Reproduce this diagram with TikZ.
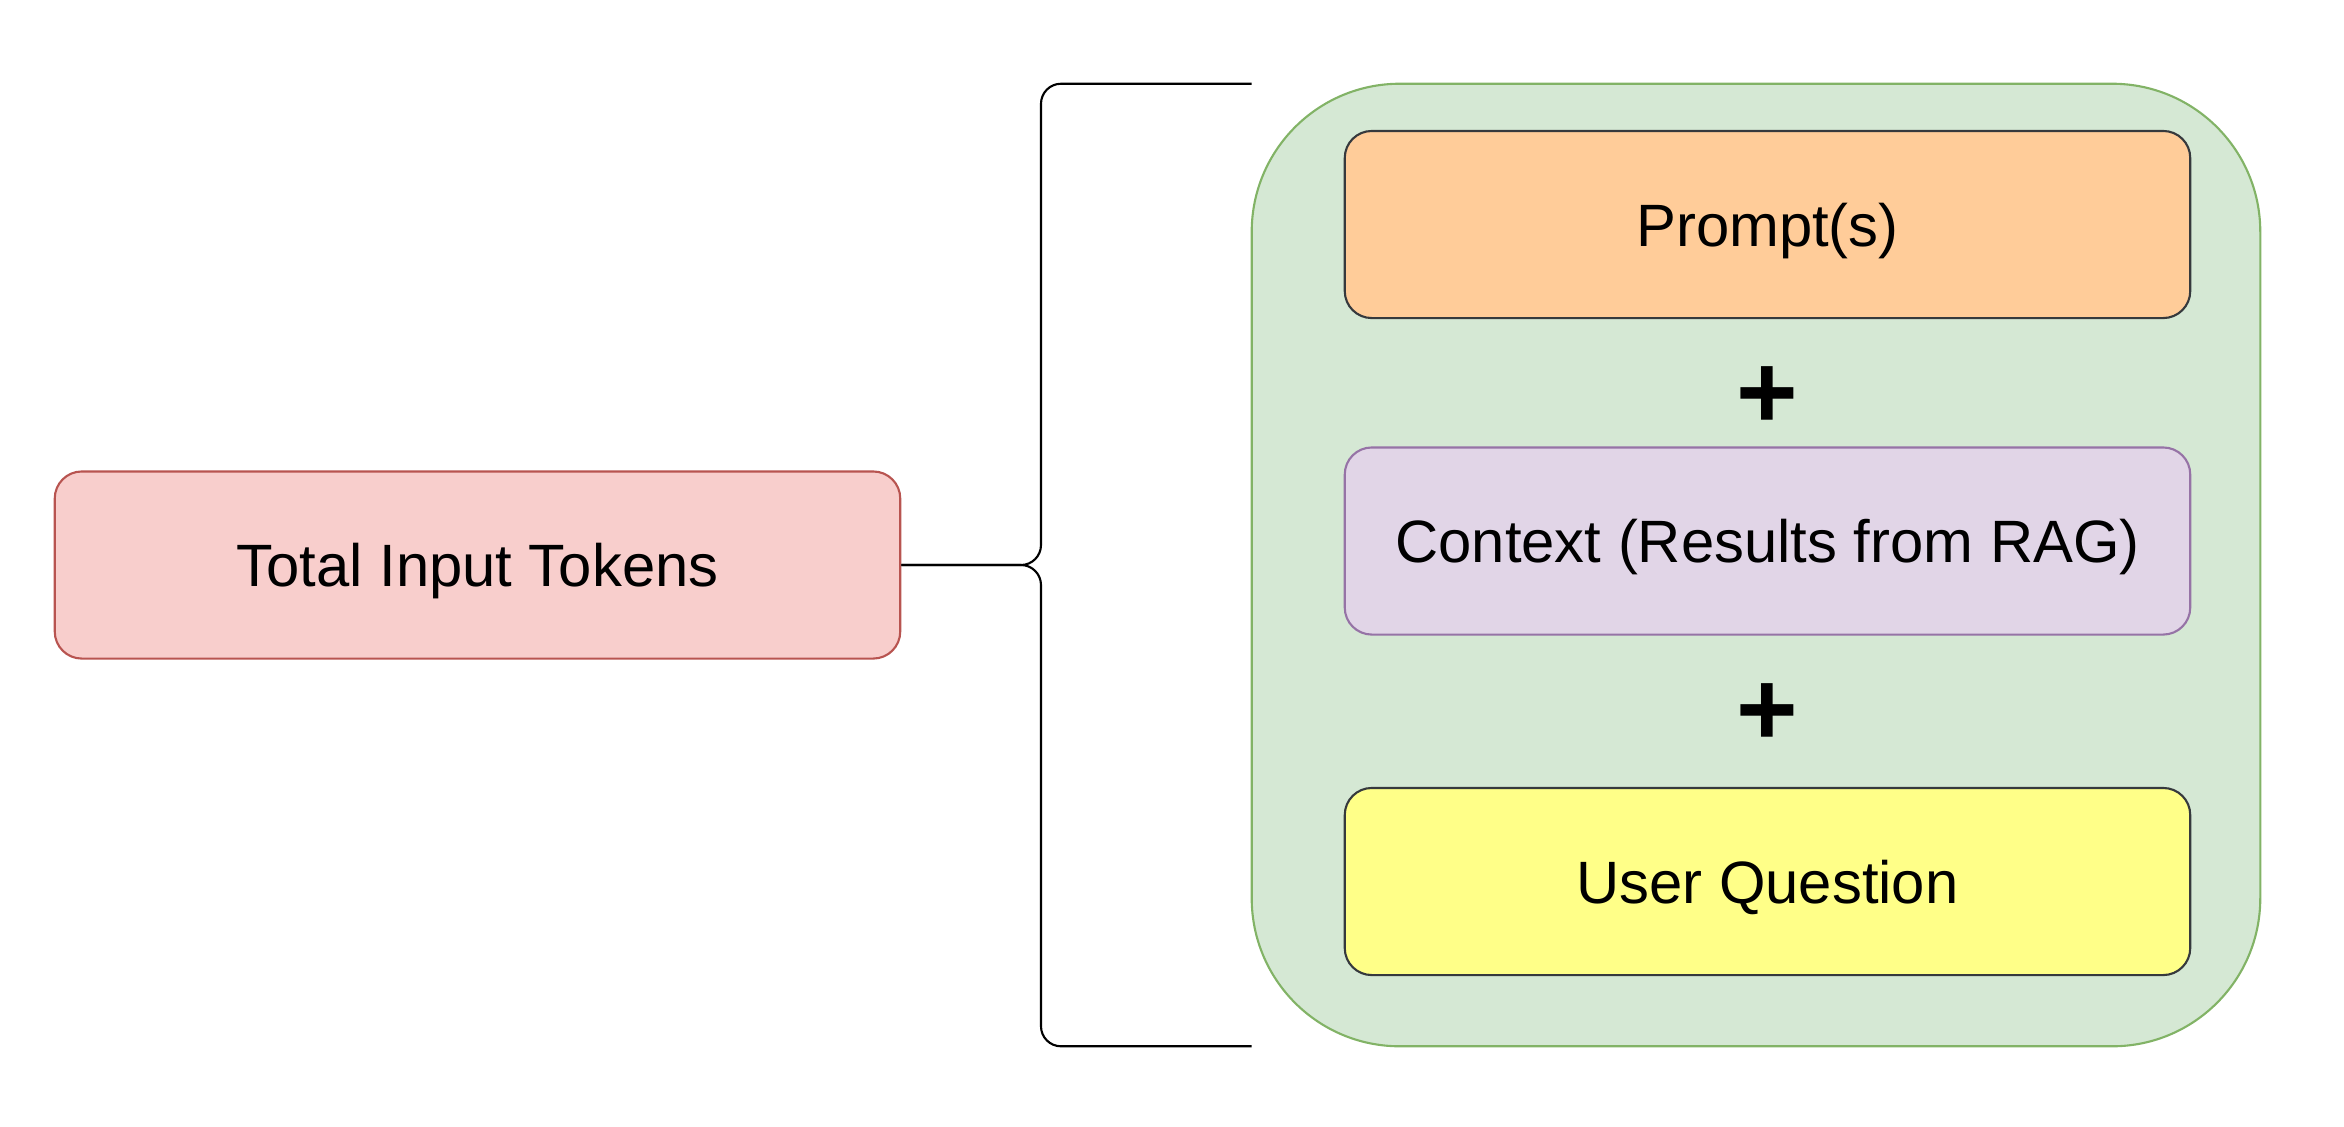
\documentclass[tikz,border=0pt]{standalone}
\usepackage{fontspec}
\setmainfont{Liberation Sans}
\usepackage{tikz}
\usetikzlibrary{positioning}

\definecolor{redfill}{HTML}{F8CECC}
\definecolor{redline}{HTML}{B85450}
\definecolor{greenfill}{HTML}{D5E8D4}
\definecolor{greenline}{HTML}{82B366}
\definecolor{purplefill}{HTML}{E1D5E7}
\definecolor{purpleline}{HTML}{9673A6}
\definecolor{orangefill}{HTML}{FFCC99}
\definecolor{yellowfill}{HTML}{FFFF88}
\definecolor{darkline}{HTML}{36393D}

\tikzset{
    tokbox/.style={draw, line width=0.6pt, rounded corners=0.27cm,
        minimum width=8.45cm, minimum height=1.87cm, inner sep=0pt,
        text height=0.43cm, text depth=0pt,
        font=\fontsize{17}{20}\selectfont},
    plussign/.style={font=\fontsize{30}{36}\selectfont\bfseries, inner sep=0pt},
    bracket/.style={draw=black, line width=0.6pt, rounded corners=0.2cm}
}

\begin{document}
\begin{tikzpicture}[x=0.01cm, y=-0.01cm]
        \useasboundingbox (0,0) rectangle (2344,1126);
        % container with the three parts
        \node[draw=greenline, fill=greenfill, line width=0.6pt, rounded corners=1.48cm,
              minimum width=10.08cm, minimum height=9.62cm, outer sep=0pt] (group) at (1756,565) {};
        \node[tokbox, fill=orangefill, draw=darkline] (prompt) at (1767.5,224.5) {Prompt(s)};
        \node[tokbox, fill=purplefill, draw=purpleline] (context) at (1767.5,541) {Context (Results from RAG)};
        \node[tokbox, fill=yellowfill, draw=darkline] (question) at (1767.5,881.5) {User Question};
        \node[plussign] (plusa) at (1767,398) {+};
        \node[plussign] (plusb) at (1767,715) {+};
        % total on the left
        \node[tokbox, fill=redfill, draw=redline] (total) at (477.5,565) {Total Input Tokens};
        % bracket
        \coordinate (tip) at (1041,565);
        \draw[bracket] (group.north west) -| (tip) -- (total.east);
        \draw[bracket] (total.east) -- (tip) |- (group.south west);
\end{tikzpicture}
\end{document}
